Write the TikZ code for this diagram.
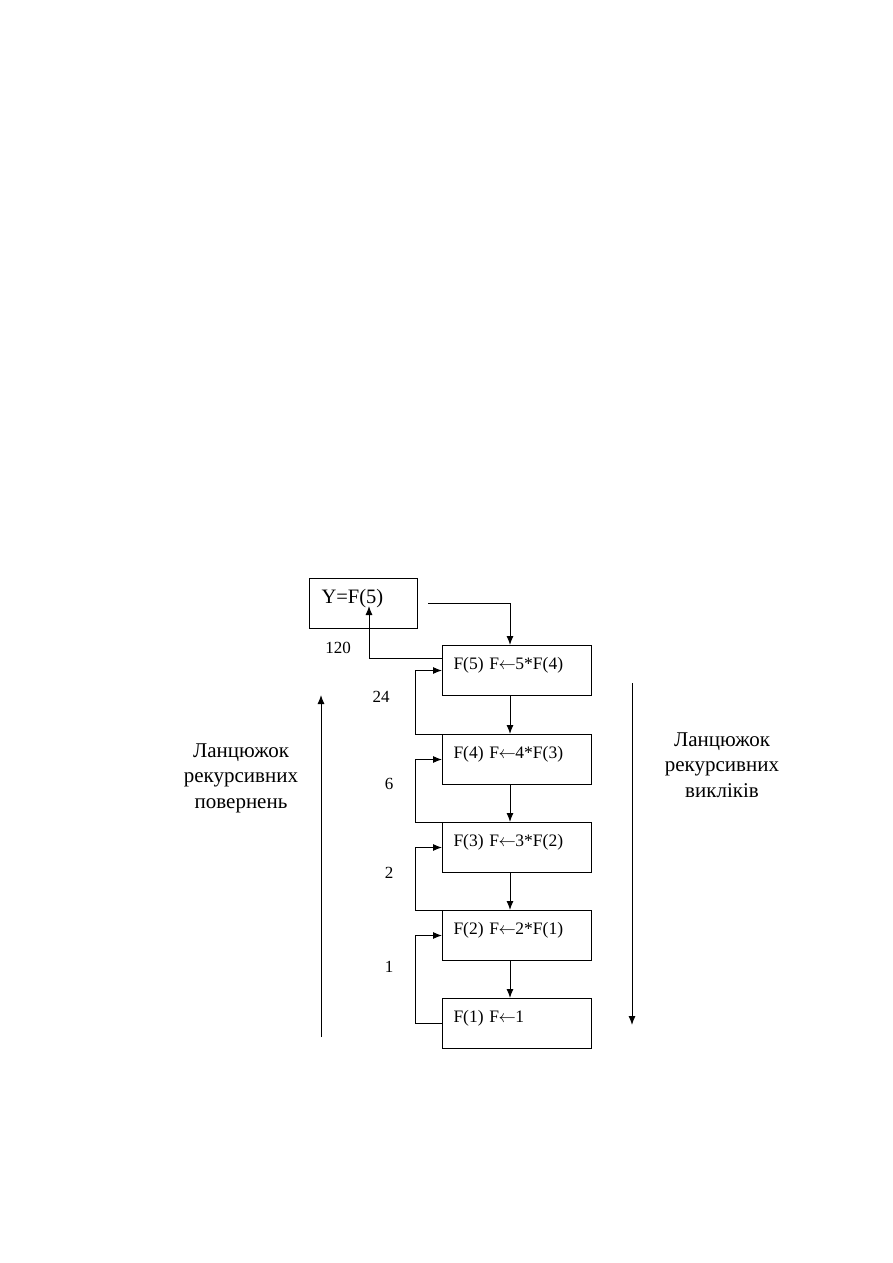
\documentclass[tikz,border=0pt]{standalone}
\usepackage{fontspec}
\setmainfont{Liberation Serif}
\usetikzlibrary{arrows.meta,calc}
\newcommand{\larr}{\kern-0.5pt$\leftarrow$\kern-0.5pt}
\tikzset{
  line/.style={line width=1pt, draw=black},
  arr/.style={line, -{Latex[length=9pt,width=7pt]}},
  fbox/.style={draw, line width=1pt, anchor=north west, inner xsep=11pt, inner ysep=0pt,
    text width=127pt, align=left, text height=24pt, text depth=26pt, font=\fontsize{17.5}{19}\selectfont},
  ybox/.style={draw, line width=1pt, anchor=north west, inner xsep=12pt, inner ysep=0pt,
    text width=84pt, align=left, text height=25pt, text depth=25pt, font=\fontsize{20.5}{22}\selectfont},
  num/.style={font=\fontsize{17}{18}\selectfont, inner sep=0pt},
  chain/.style={font=\fontsize{21}{25.5}\selectfont, align=center, inner sep=0pt}
}
\begin{document}
\begin{tikzpicture}[x=1pt,y=-1pt]
\useasboundingbox (0,0) rectangle (893,1263);
\node[ybox] (y) at (309,578) {Y=F(5)};
\node[fbox] (f5) at (442,645) {F(5) F\larr5*F(4)};
\node[fbox] (f4) at (442,734) {F(4) F\larr4*F(3)};
\node[fbox] (f3) at (442,822) {F(3) F\larr3*F(2)};
\node[fbox] (f2) at (442,910) {F(2) F\larr2*F(1)};
\node[fbox] (f1) at (442,998) {F(1) F\larr1};
% call chain
\coordinate (start) at (428,603);
\draw[arr] (start) -| ([xshift=68pt]f5.north west);
\draw[arr] ([xshift=68pt]f5.south west) -- ([xshift=68pt]f4.north west);
\draw[arr] ([xshift=68pt]f4.south west) -- ([xshift=68pt]f3.north west);
\draw[arr] ([xshift=68pt]f3.south west) -- ([xshift=68pt]f2.north west);
\draw[arr] ([xshift=68pt]f2.south west) -- ([xshift=68pt]f1.north west);
% return chain
\draw[arr] ([yshift=-13pt]f5.north west) -| ([xshift=60pt,yshift=23pt]y.south west);
\draw[arr] (f4.north west) -- ++(-27,0) |- (f5.west);
\draw[arr] (f3.north west) -- ++(-27,0) |- (f4.west);
\draw[arr] (f2.north west) -- ++(-27,0) |- (f3.west);
\draw[arr] (f1.west) -- ++(-27,0) |- (f2.west);
% values
\node[num] (n120) at (338,648) {120};
\node[num] (n24) at (381,697) {24};
\node[num] (n6) at (389,784) {6};
\node[num] (n2) at (389,873) {2};
\node[num] (n1) at (389,967) {1};
% side arrows
\coordinate (lb) at (321,1037);
\coordinate (lt) at (321,695);
\draw[arr] (lb) -- (lt);
\coordinate (rt) at (632,683);
\coordinate (rb) at (632,1025);
\draw[arr] (rt) -- (rb);
\node[chain] (lret) at (241,778) {Ланцюжок\\рекурсивних\\повернень};
\node[chain] (rcall) at (722,765) {Ланцюжок\\рекурсивних\\викліків};
\end{tikzpicture}
\end{document}
